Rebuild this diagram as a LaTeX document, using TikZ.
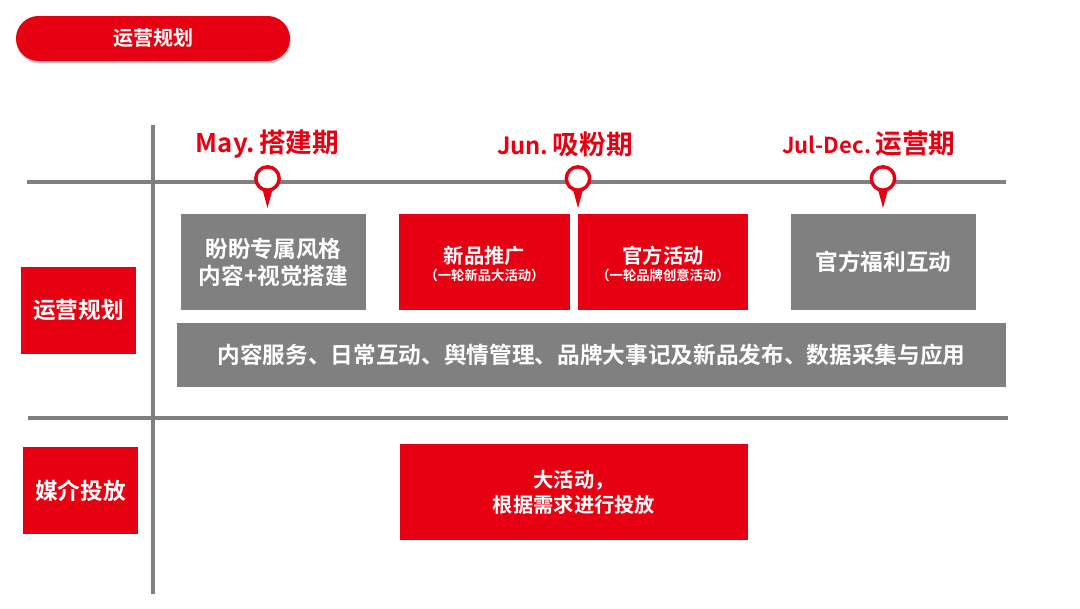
\documentclass[tikz,border=0pt]{standalone}
\usepackage{fontspec}
\usepackage{tikz}
\usetikzlibrary{shadows}
\setmainfont{Noto Sans CJK SC}[BoldFont={Noto Sans CJK SC Bold}]
\definecolor{brandred}{HTML}{E60012}
\definecolor{linegray}{HTML}{808080}
\newcommand{\subfont}{\bfseries\fontsize{10}{12}\selectfont}

\begin{document}
\begin{tikzpicture}[x=0.75pt,y=-0.75pt,
            axis line/.style={draw=linegray,line width=2.4pt},
            red box/.style={rectangle,fill=brandred,text=white,align=center,inner sep=0pt,font=\bfseries\fontsize{17}{20.5}\selectfont},
            gray box/.style={red box,fill=linegray},
            small box/.style={font=\bfseries\fontsize{15.2}{19}\selectfont},
            period label/.style={text=brandred,inner sep=0pt,font=\bfseries\fontsize{20}{24}\selectfont},
            pin node/.style={circle,draw=brandred,fill=white,line width=2.6pt,minimum size=17.5pt,inner sep=0pt}]

    \useasboundingbox (0,0) rectangle (1080,608);

    \node[red box,minimum width=205.5pt,minimum height=33.75pt,rounded corners=16.8pt,
        drop shadow={shadow xshift=0.6pt,shadow yshift=-1.8pt,fill=black,opacity=0.2},
        font=\bfseries\fontsize{15}{18}\selectfont] (title) at (153,38.5) {运营规划};

    % axes
    \coordinate (vtop) at (153,125);
    \coordinate (vbot) at (153,594);
    \coordinate (h1l) at (27,182);
    \coordinate (h1r) at (1006,182);
    \coordinate (h2l) at (28,418);
    \coordinate (h2r) at (1008,418);
    \draw[axis line] (vtop) -- (vbot);
    \draw[axis line] (h1l) -- (h1r);
    \draw[axis line] (h2l) -- (h2r);

    % periods
    \node[period label] (may) at (267.5,144) {{\fontsize{19.3}{24}\selectfont May.}\,搭建期};
    \node[period label] (jun) at (565,144) {{\fontsize{17.8}{24}\selectfont Jun.}\,吸粉期};
    \node[period label] (jul) at (869,144) {{\fontsize{16.5}{24}\selectfont Jul-Dec.}\,运营期};

    % pins
    \coordinate (tip1) at (267.5,208);
    \coordinate (tip2) at (578,208);
    \coordinate (tip3) at (883,208);
    \node[pin node] (pin1) at (267.5,178.5) {};
    \node[pin node] (pin2) at (578,178.5) {};
    \node[pin node] (pin3) at (883,178.5) {};
    \fill[brandred] (pin1.-110) -- (tip1) -- (pin1.-70) -- cycle;
    \fill[brandred] (pin2.-110) -- (tip2) -- (pin2.-70) -- cycle;
    \fill[brandred] (pin3.-110) -- (tip3) -- (pin3.-70) -- cycle;

    % boxes
    \node[gray box,minimum width=138.75pt,minimum height=72pt] (style) at (273.5,262) {盼盼专属风格\\内容+视觉搭建};
    \node[red box,small box,minimum width=128.25pt,minimum height=72pt] (launch) at (484.5,262) {\\[-3pt]新品推广\\[-6.5pt]{\subfont （一轮新品大活动）}};
    \node[red box,small box,minimum width=127.5pt,minimum height=72pt] (event) at (663,262) {\\[-3pt]官方活动\\[-6.5pt]{\subfont （一轮品牌创意活动）}};
    \node[gray box,minimum width=138.75pt,minimum height=72pt] (perks) at (883.5,262) {官方福利互动};
    \node[gray box,minimum width=621.75pt,minimum height=48pt] (daily) at (591.5,355) {内容服务、日常互动、舆情管理、品牌大事记及新品发布、数据采集与应用};
    \node[red box,minimum width=86.25pt,minimum height=65.25pt] (plan) at (78.5,310.5) {运营规划};
    \node[red box,minimum width=86.25pt,minimum height=65.25pt] (media) at (80.5,490.5) {媒介投放};
    \node[red box,small box,minimum width=261pt,minimum height=72pt] (big) at (574,492) {大活动，\\根据需求进行投放};
\end{tikzpicture}
\end{document}
